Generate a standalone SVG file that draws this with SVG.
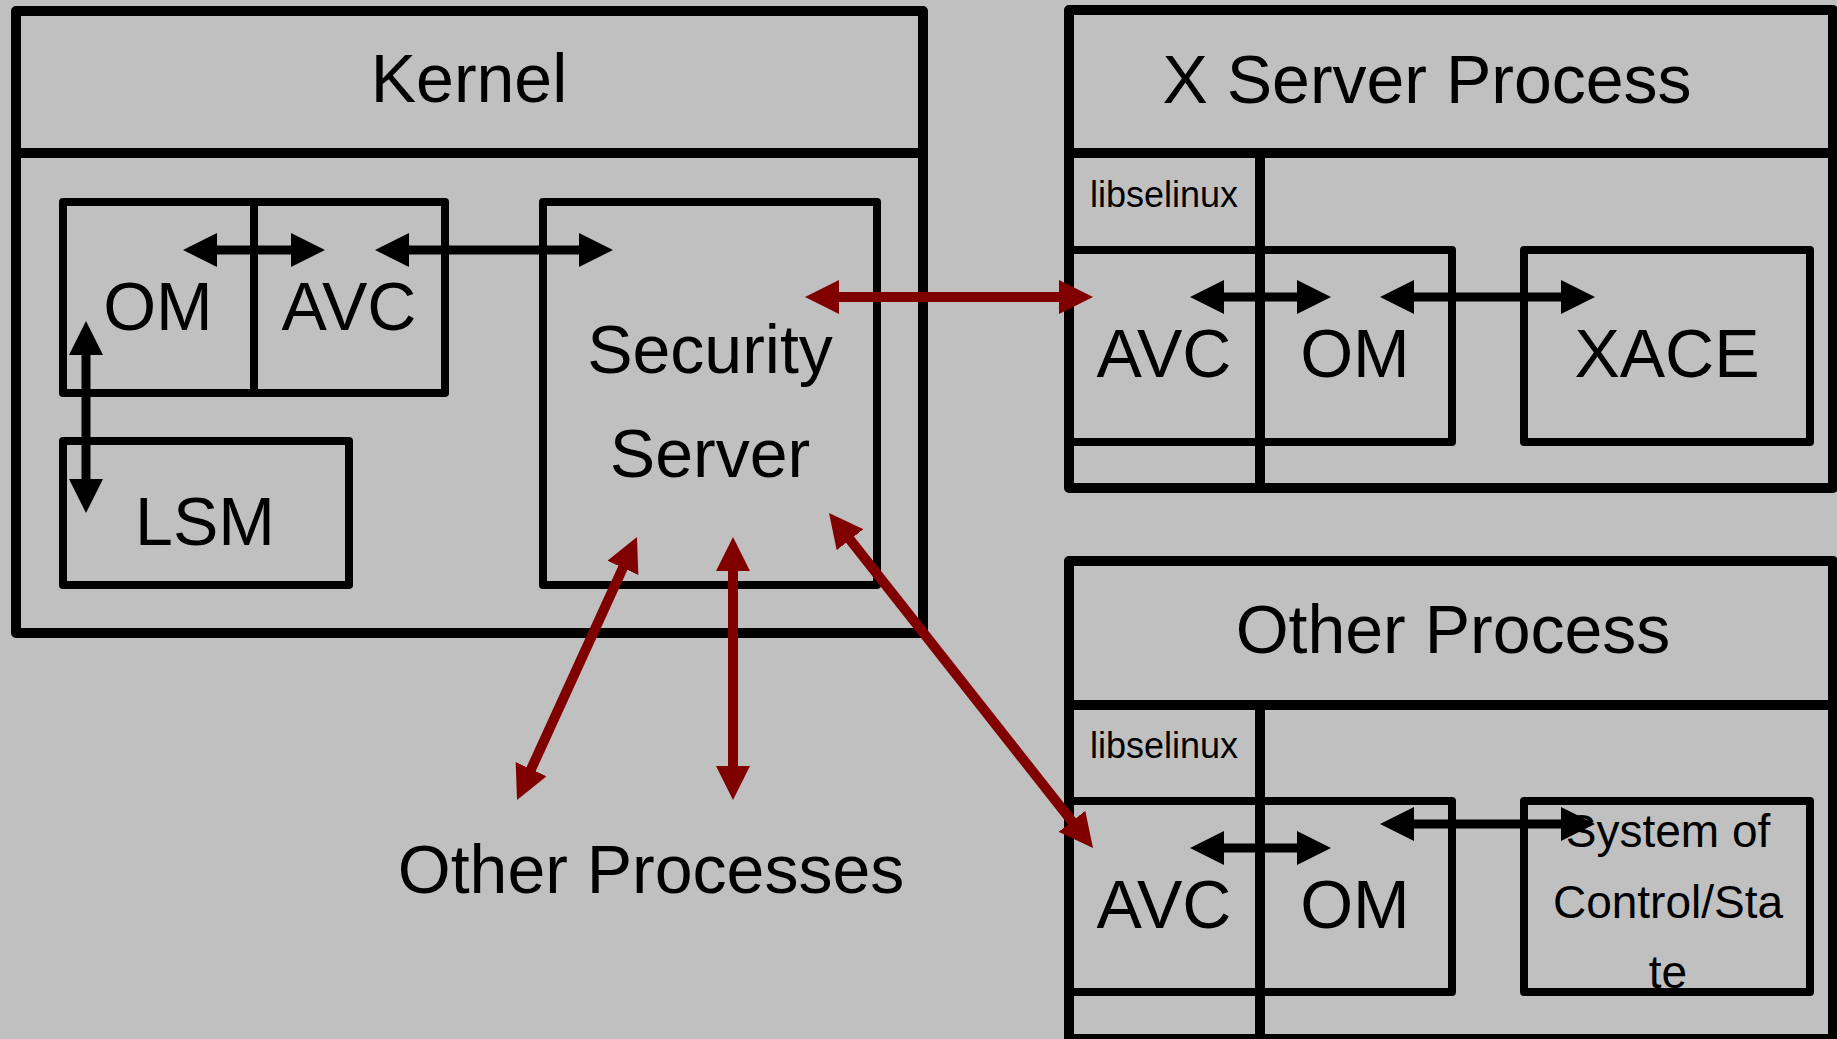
<svg xmlns="http://www.w3.org/2000/svg" width="1837" height="1039" viewBox="0 0 1837 1039">
<style>
.outer{fill:none;stroke:#000;stroke-width:10;stroke-linejoin:round}
.inner{fill:none;stroke:#000;stroke-width:8;stroke-linejoin:round}
.t{font-family:"Liberation Sans",Arial,sans-serif;fill:#000;text-anchor:middle}
.big{font-size:68px}
.mid{font-size:46px}
.small{font-size:36px}
.blk{stroke:#000;stroke-width:9;fill:none}
.red{stroke:#800000;stroke-width:10;fill:none}
</style>
<defs>
<marker id="hb" markerUnits="userSpaceOnUse" markerWidth="34" markerHeight="34" viewBox="0 0 34 34" refX="9" refY="17" orient="auto-start-reverse">
<path d="M0,0 L34,17 L0,34 z" fill="#000"/>
</marker>
<marker id="hr" markerUnits="userSpaceOnUse" markerWidth="34" markerHeight="34" viewBox="0 0 34 34" refX="9" refY="17" orient="auto-start-reverse">
<path d="M0,0 L34,17 L0,34 z" fill="#800000"/>
</marker>
</defs>
<rect width="1837" height="1039" fill="#c0c0c0"/>

<g id="kernel">
<rect class="outer" x="16" y="11" width="907" height="622"/>
<line class="outer" x1="16" y1="153" x2="923" y2="153"/>
<text class="t big" x="469" y="102">Kernel</text>
</g>
<g id="kernel-om-avc">
<rect class="inner" x="63" y="202" width="382" height="191"/>
<line class="inner" x1="254" y1="202" x2="254" y2="393"/>
<text class="t big" x="158" y="330">OM</text>
<text class="t big" x="349" y="330">AVC</text>
</g>
<g id="lsm">
<rect class="inner" x="63" y="441" width="286" height="144"/>
<text class="t big" x="205" y="545">LSM</text>
</g>
<g id="security-server">
<rect class="inner" x="543" y="202" width="334" height="383"/>
<text class="t big" x="710" y="373">Security</text>
<text class="t big" x="710" y="477">Server</text>
</g>

<g id="xserver">
<rect class="outer" x="1069" y="10" width="764" height="478"/>
<line class="outer" x1="1069" y1="153" x2="1833" y2="153"/>
<line class="outer" x1="1260" y1="153" x2="1260" y2="488"/>
<text class="t big" x="1427" y="103">X Server Process</text>
<text class="t small" x="1164" y="207">libselinux</text>
</g>
<g id="xserver-avc-om">
<rect class="inner" x="1069" y="250" width="383" height="192"/>
<text class="t big" x="1164" y="377">AVC</text>
<text class="t big" x="1355" y="377">OM</text>
</g>
<g id="xace">
<rect class="inner" x="1524" y="250" width="286" height="192"/>
<text class="t big" x="1667" y="377">XACE</text>
</g>

<g id="other-process">
<rect class="outer" x="1069" y="561" width="764" height="478"/>
<line class="outer" x1="1069" y1="705" x2="1833" y2="705"/>
<line class="outer" x1="1260" y1="705" x2="1260" y2="1039"/>
<text class="t big" x="1453" y="653">Other Process</text>
<text class="t small" x="1164" y="758">libselinux</text>
</g>
<g id="other-avc-om">
<rect class="inner" x="1069" y="801" width="383" height="191"/>
<text class="t big" x="1164" y="928">AVC</text>
<text class="t big" x="1355" y="928">OM</text>
</g>
<g id="system-state">
<rect class="inner" x="1524" y="801" width="286" height="191"/>
<text class="t mid" x="1668" y="847">System of</text>
<text class="t mid" x="1668" y="918">Control/Sta</text>
<text class="t mid" x="1668" y="988">te</text>
</g>

<g id="other-processes">
<text class="t big" x="651" y="893">Other Processes</text>
</g>

<g id="connectors">
<line class="blk" x1="208" y1="250" x2="300" y2="250" marker-start="url(#hb)" marker-end="url(#hb)"/>
<line class="blk" x1="400" y1="250" x2="588" y2="250" marker-start="url(#hb)" marker-end="url(#hb)"/>
<line class="blk" x1="86" y1="346" x2="86" y2="488" marker-start="url(#hb)" marker-end="url(#hb)"/>
<line class="blk" x1="1215" y1="297" x2="1306" y2="297" marker-start="url(#hb)" marker-end="url(#hb)"/>
<line class="blk" x1="1405" y1="297" x2="1570" y2="297" marker-start="url(#hb)" marker-end="url(#hb)"/>
<line class="blk" x1="1215" y1="848" x2="1306" y2="848" marker-start="url(#hb)" marker-end="url(#hb)"/>
<line class="blk" x1="1405" y1="824" x2="1570" y2="824" marker-start="url(#hb)" marker-end="url(#hb)"/>
<line class="red" x1="830" y1="297" x2="1068" y2="297" marker-start="url(#hr)" marker-end="url(#hr)"/>
<line class="red" x1="527.4" y1="777.3" x2="626.6" y2="559.7" marker-start="url(#hr)" marker-end="url(#hr)"/>
<line class="red" x1="733" y1="775" x2="733" y2="562" marker-start="url(#hr)" marker-end="url(#hr)"/>
<line class="red" x1="844.5" y1="532.6" x2="1077.5" y2="828.4" marker-start="url(#hr)" marker-end="url(#hr)"/>
</g>
</svg>
